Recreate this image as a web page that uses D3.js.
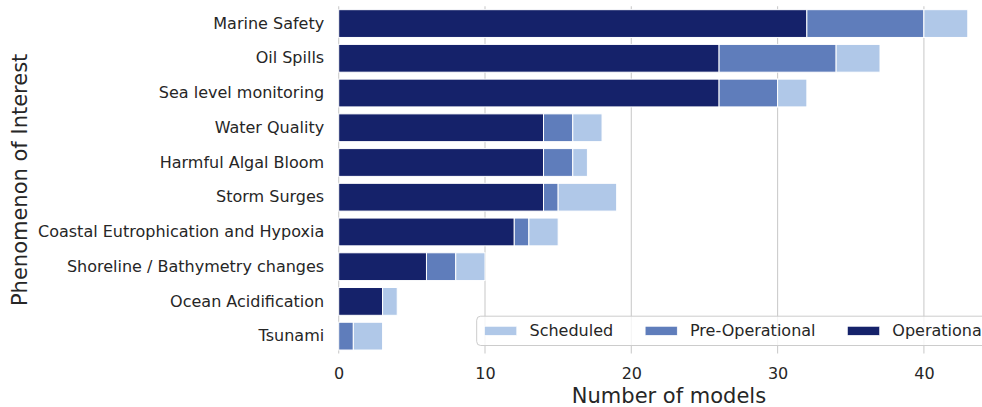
<!DOCTYPE html>
<html>
<head>
<meta charset="utf-8">
<script src="https://cdn.jsdelivr.net/npm/d3@7"></script>
<style>
  body { margin: 0; background: #fff; }
  svg { display: block; font-family: "DejaVu Sans", sans-serif; }
</style>
</head>
<body>
<div id="chart"></div>
<script>
// data
const categories = [
  "Marine Safety",
  "Oil Spills",
  "Sea level monitoring",
  "Water Quality",
  "Harmful Algal Bloom",
  "Storm Surges",
  "Coastal Eutrophication and Hypoxia",
  "Shoreline / Bathymetry changes",
  "Ocean Acidification",
  "Tsunami",
];
const operational = [32, 26, 26, 14, 14, 14, 12, 6, 3, 0];
const preOperational = [8, 8, 4, 2, 2, 1, 1, 2, 0, 1];
const scheduled = [3, 3, 2, 2, 1, 4, 2, 2, 1, 2];
const seriesNames = ["Operational", "Pre-Operational", "Scheduled"];
const legendOrder = ["Scheduled", "Pre-Operational", "Operational"];
const xTicks = [0, 10, 20, 30, 40];

const colors = {
  "Operational": "#15226a",
  "Pre-Operational": "#5f7dbb",
  "Scheduled": "#b0c8e8",
};

const width = 982;
const height = 407;
const margin = { top: 6.2, left: 338.7, bottom: 53.5 };
const xMax = 43 * 1.05;
const pxPerUnit = 14.63;
const iwidth = xMax * pxPerUnit;
const iheight = height - margin.top - margin.bottom;

const rows = categories.map((c, i) => ({
  name: c,
  "Operational": operational[i],
  "Pre-Operational": preOperational[i],
  "Scheduled": scheduled[i],
}));

const svg = d3.select("#chart").append("svg")
  .attr("width", width)
  .attr("height", height);

const g = svg.append("g")
  .attr("transform", `translate(${margin.left},${margin.top})`);

const x = d3.scaleLinear().domain([0, xMax]).range([0, iwidth]);
const y = d3.scaleBand().domain(categories).range([0, iheight])
  .paddingInner(0.2).paddingOuter(0.1);

// grid
g.append("g").selectAll("line").data(xTicks).enter().append("line")
  .attr("x1", (d) => x(d)).attr("x2", (d) => x(d))
  .attr("y1", 0).attr("y2", iheight)
  .attr("stroke", "#cccccc")
  .attr("stroke-width", 1.1);

// stacked bars
const stacked = d3.stack().keys(seriesNames)(rows);

g.append("g").selectAll("g").data(stacked).enter().append("g")
  .attr("fill", (s) => colors[s.key])
  .selectAll("rect").data((s) => s).enter().append("rect")
  .attr("x", (d) => x(d[0]))
  .attr("y", (d) => y(d.data.name))
  .attr("width", (d) => Math.max(0, x(d[1]) - x(d[0])))
  .attr("height", y.bandwidth())
  .attr("stroke", "#ffffff")
  .attr("stroke-width", (d) => (d[1] > d[0] ? 1 : 0));

// y axis labels
const yAxis = g.append("g").call(d3.axisLeft(y).tickSize(0).tickPadding(14.5));
yAxis.select(".domain").remove();
yAxis.selectAll("text")
  .attr("fill", "#262626")
  .style("font-size", "16px")
  .style("font-family", "DejaVu Sans");

// x axis labels
const xAxis = g.append("g")
  .attr("transform", `translate(0,${iheight})`)
  .call(d3.axisBottom(x).tickValues(xTicks).tickSize(0).tickPadding(14));
xAxis.select(".domain").remove();
xAxis.selectAll("text")
  .attr("fill", "#262626")
  .style("font-size", "16px")
  .style("font-family", "DejaVu Sans");

svg.append("text")
  .attr("x", margin.left + iwidth / 2)
  .attr("y", 403)
  .attr("text-anchor", "middle")
  .attr("fill", "#262626")
  .style("font-size", "21px")
  .text("Number of models");

svg.append("text")
  .attr("transform", `translate(27,${margin.top + iheight / 2}) rotate(-90)`)
  .attr("text-anchor", "middle")
  .attr("fill", "#262626")
  .style("font-size", "21px")
  .text("Phenomenon of Interest");

// legend, lower right inside the axes
const fs = 16;
const legend = g.append("g");
const box = legend.append("rect");
const items = legend.selectAll("g.item").data(legendOrder).enter().append("g").attr("class", "item");
items.append("rect")
  .attr("width", 2 * fs).attr("height", 0.55 * fs)
  .attr("fill", (d) => colors[d])
  .attr("stroke", "#fff").attr("stroke-width", 0.5);
const labels = items.append("text")
  .attr("x", 2.8 * fs)
  .attr("y", 0.275 * fs)
  .attr("dy", "0.35em")
  .attr("fill", "#262626")
  .style("font-size", fs + "px")
  .text((d) => d);

const widths = [];
labels.each(function () { widths.push(this.getComputedTextLength()); });
const offsets = [];
let cx = 0.5 * fs;
widths.forEach((w) => {
  offsets.push(cx);
  cx += 2.8 * fs + w + 2 * fs;
});
const boxW = cx - 2 * fs + 0.5 * fs;
const boxH = 29.3;
items.attr("transform", (d, i) => `translate(${offsets[i]},${(boxH - 0.55 * fs) / 2})`);
box.attr("width", boxW).attr("height", boxH)
  .attr("rx", 4).attr("ry", 4)
  .attr("fill", "#ffffff").attr("fill-opacity", 0.8)
  .attr("stroke", "#cccccc").attr("stroke-width", 1);
legend.attr("transform", `translate(${476.7 - margin.left},${iheight - 8 - boxH})`);
</script>
</body>
</html>
